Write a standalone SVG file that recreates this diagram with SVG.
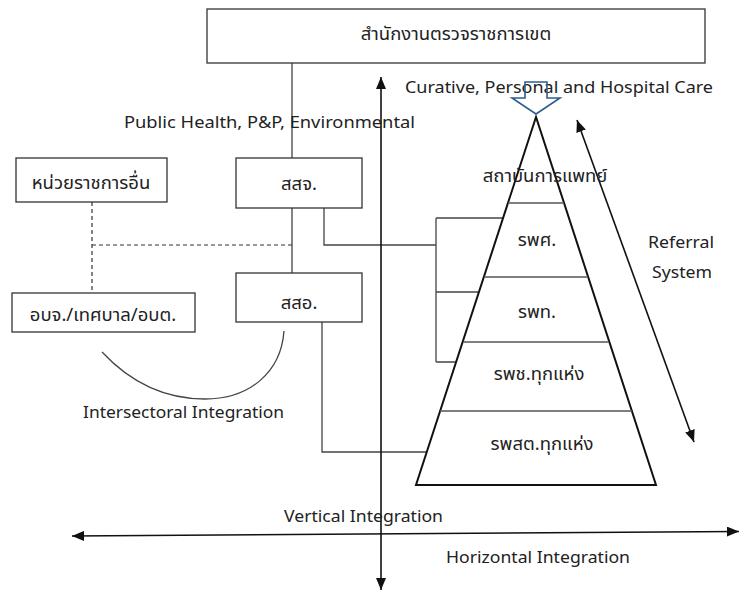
<svg xmlns="http://www.w3.org/2000/svg" width="739" height="592" viewBox="0 0 739 592">
<style>
.box{fill:#fff;stroke:#333;stroke-width:1.3}
.th{font-family:"Noto Sans Thai","Noto Sans","DejaVu Sans",sans-serif;font-size:18.5px;fill:#222;text-anchor:middle}
.en{font-family:"Noto Sans","Open Sans",sans-serif;font-size:16px;fill:#222}
.conn{fill:none;stroke:#444;stroke-width:1.3}
.dash{fill:none;stroke:#333;stroke-width:1.2;stroke-dasharray:4 3}
.axis{fill:none;stroke:#111;stroke-width:1.6}
.tier{stroke:#555;stroke-width:1.3}
</style>
<defs>
<marker id="ah" markerUnits="userSpaceOnUse" viewBox="0 0 12 10" refX="12" refY="5" markerWidth="12" markerHeight="10" orient="auto-start-reverse">
<path d="M0,0 L12,5 L0,10 z" fill="#111"/>
</marker>
</defs>

<g id="connectors">
<path class="conn" d="M292,63 V158 M292,208 V273"/>
<path class="conn" d="M324,208 V245 H436 M436,218 V362 M436,218 H503 M436,292 H479 M436,362 H456"/>
<path class="conn" d="M322,322 V452 H427"/>
<path class="dash" d="M92,202 V293 M92,245 H292"/>
<path class="conn" d="M102,352 C130,382 165,399 205,399 C250,399 281,372 284,331" stroke-width="1"/>
<path class="axis" d="M381,77 V590" marker-start="url(#ah)" marker-end="url(#ah)"/>
<path class="axis" d="M72,536 L739,531.5" stroke-width="2" marker-start="url(#ah)" marker-end="url(#ah)"/>
<path class="axis" d="M577,120 L694,442" marker-start="url(#ah)" marker-end="url(#ah)"/>
</g>

<g id="regional-office">
<rect class="box" x="207" y="9" width="498" height="54"/>
<text class="th" x="456" y="40">สำนักงานตรวจราชการเขต</text>
</g>

<g id="other-agencies">
<rect class="box" x="16" y="158" width="151" height="44"/>
<text class="th" x="91" y="189">หน่วยราชการอื่น</text>
</g>

<g id="local-gov">
<rect class="box" x="12" y="293" width="183" height="39"/>
<text class="th" x="103" y="321">อบจ./เทศบาล/อบต.</text>
</g>

<g id="ssj">
<rect class="box" x="236" y="158" width="126" height="50"/>
<text class="th" x="299" y="190">สสจ.</text>
</g>

<g id="sso">
<rect class="box" x="236" y="273" width="126" height="49"/>
<text class="th" x="299" y="309">สสอ.</text>
</g>

<g id="pyramid">
<polygon points="536,117 416,485 656,485" fill="none" stroke="#111" stroke-width="2"/>
<line class="tier" x1="508" y1="203" x2="564" y2="203"/>
<line class="tier" x1="484" y1="277" x2="588" y2="277"/>
<line class="tier" x1="463" y1="342" x2="609" y2="342"/>
<line class="tier" x1="440" y1="411" x2="632" y2="411"/>
<text class="th" x="545" y="182">สถาบันการแพทย์</text>
<text class="th" x="537" y="246">รพศ.</text>
<text class="th" x="537" y="318">รพท.</text>
<text class="th" x="539" y="380">รพช.ทุกแห่ง</text>
<text class="th" x="542" y="450">รพสต.ทุกแห่ง</text>
</g>

<g id="labels">
<text class="en" x="405" y="93" textLength="308" lengthAdjust="spacingAndGlyphs">Curative, Personal and Hospital Care</text>
<text class="en" x="124" y="128" textLength="291" lengthAdjust="spacingAndGlyphs">Public Health, P&amp;P, Environmental</text>
<text class="en" x="648" y="248" textLength="66" lengthAdjust="spacingAndGlyphs">Referral</text>
<text class="en" x="652" y="278" textLength="60" lengthAdjust="spacingAndGlyphs">System</text>
<text class="en" x="83" y="418" textLength="201" lengthAdjust="spacingAndGlyphs">Intersectoral Integration</text>
<text class="en" x="284" y="522" textLength="159" lengthAdjust="spacingAndGlyphs">Vertical Integration</text>
<text class="en" x="446" y="563" textLength="184" lengthAdjust="spacingAndGlyphs">Horizontal Integration</text>
</g>

<g id="care-arrow">
<polygon points="525,82 547,82 547,98 560,98 536,114 512,98 525,98" fill="none" stroke="#2e5e8e" stroke-width="1.6"/>
</g>
</svg>
